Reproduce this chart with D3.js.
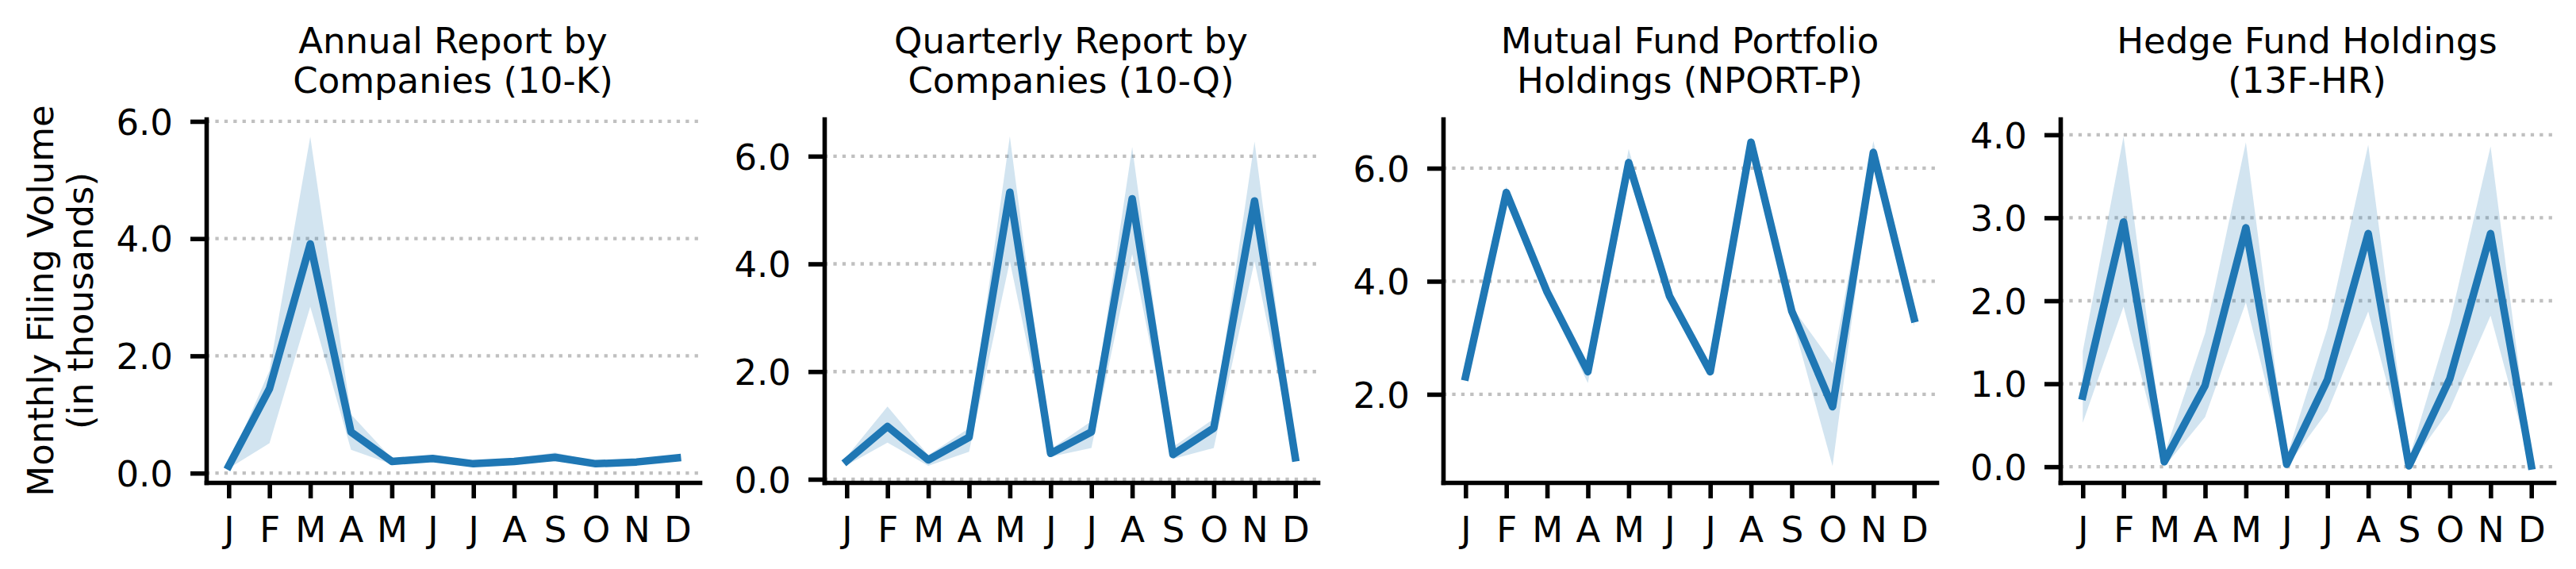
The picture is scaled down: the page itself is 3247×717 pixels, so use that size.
<!DOCTYPE html>
<html><head><meta charset="utf-8">
<script src="https://cdn.jsdelivr.net/npm/d3@7"></script>
<style>body{margin:0;background:#fff}svg{display:block}</style>
</head><body>
<svg id="chart" width="3247" height="717"></svg>
<script>
// ---------------- data ----------------
const months = ["J","F","M","A","M","J","J","A","S","O","N","D"];

const titles10K = ["Annual Report by", "Companies (10-K)"];
const mean10K = [0.12, 1.44, 3.91, 0.70, 0.20, 0.25, 0.16, 0.20, 0.27, 0.16, 0.19, 0.26];
const lo10K   = [0.08, 0.51, 2.84, 0.40, 0.15, 0.21, 0.12, 0.16, 0.20, 0.12, 0.15, 0.21];
const hi10K   = [0.15, 1.75, 5.74, 1.00, 0.25, 0.29, 0.20, 0.25, 0.35, 0.20, 0.24, 0.31];
const ticks10K = [0, 2, 4, 6];

const titles10Q = ["Quarterly Report by", "Companies (10-Q)"];
const mean10Q = [0.34, 0.98, 0.36, 0.78, 5.33, 0.48, 0.88, 5.21, 0.46, 0.95, 5.17, 0.40];
const lo10Q   = [0.26, 0.68, 0.25, 0.51, 4.05, 0.42, 0.58, 4.18, 0.38, 0.58, 4.05, 0.35];
const hi10Q   = [0.42, 1.35, 0.45, 0.95, 6.37, 0.56, 1.08, 6.17, 0.60, 1.12, 6.27, 0.45];
const ticks10Q = [0, 2, 4, 6];

const titlesNPORT = ["Mutual Fund Portfolio", "Holdings (NPORT-P)"];
const meanNPORT = [2.31, 5.57, 3.81, 2.40, 6.10, 3.74, 2.40, 6.46, 3.47, 1.78, 6.28, 3.34];
const loNPORT   = [2.28, 5.50, 3.70, 2.20, 6.02, 3.65, 2.35, 6.40, 3.35, 0.73, 6.20, 3.20];
const hiNPORT   = [2.34, 5.68, 3.88, 2.45, 6.34, 3.85, 2.45, 6.54, 3.55, 2.55, 6.48, 3.40];
const ticksNPORT = [2, 4, 6];

const titles13F = ["Hedge Fund Holdings", "(13F-HR)"];
const mean13F = [0.85, 2.95, 0.06, 0.98, 2.88, 0.03, 1.05, 2.81, 0.01, 1.06, 2.81, 0.01];
const lo13F   = [0.53, 1.93, 0.00, 0.60, 1.98, 0.00, 0.67, 1.87, 0.00, 0.69, 1.82, 0.00];
const hi13F   = [1.39, 3.98, 0.15, 1.61, 3.91, 0.12, 1.67, 3.88, 0.10, 1.74, 3.86, 0.03];
const ticks13F = [0, 1, 2, 3, 4];

const yLabelLines = ["Monthly Filing Volume", "(in thousands)"];

// ---------------- layout ----------------
const panels = [
  {title: titles10K,   mean: mean10K,   lo: lo10K,   hi: hi10K,   ticks: ticks10K,   yDomain: [-0.16, 6.04]},
  {title: titles10Q,   mean: mean10Q,   lo: lo10Q,   hi: hi10Q,   ticks: ticks10Q,   yDomain: [-0.06, 6.69]},
  {title: titlesNPORT, mean: meanNPORT, lo: loNPORT, hi: hiNPORT, ticks: ticksNPORT, yDomain: [0.44, 6.87]},
  {title: titles13F,   mean: mean13F,   lo: lo13F,   hi: hi13F,   ticks: ticks13F,   yDomain: [-0.19, 4.19]}
];
const lefts = [260, 1039, 1819, 2597];
const W = 622, TOP = 150, BOTTOM = 608;
const FONT = "DejaVu Sans";
const FS = 45;
const BLUE = "#1f77b4";

const svg = d3.select("#chart");
svg.append("rect").attr("width", 3247).attr("height", 717).attr("fill", "#fff");

panels.forEach((p, k) => {
  const L = lefts[k], R = L + W;
  const x = d3.scaleLinear().domain([-0.55, 11.55]).range([L, R]);
  const y = d3.scaleLinear().domain(p.yDomain).range([BOTTOM, TOP]);
  const g = svg.append("g");

  // grid
  g.append("g").selectAll("line").data(p.ticks).join("line")
    .attr("x1", L).attr("x2", R)
    .attr("y1", d => y(d)).attr("y2", d => y(d))
    .attr("stroke", "#c0c0c0").attr("stroke-width", 4.3)
    .attr("stroke-dasharray", "4.3 7.1");

  // band
  const idx = d3.range(months.length);
  g.append("path").datum(idx)
    .attr("d", d3.area().x(i => x(i)).y0(i => y(p.lo[i])).y1(i => y(p.hi[i])))
    .attr("fill", BLUE).attr("fill-opacity", 0.2);

  // line
  g.append("path").datum(idx)
    .attr("d", d3.line().x(i => x(i)).y(i => y(p.mean[i])))
    .attr("fill", "none").attr("stroke", BLUE).attr("stroke-width", 9.5)
    .attr("stroke-linejoin", "round").attr("stroke-linecap", "square");

  // y axis
  const ya = g.append("g").attr("transform", `translate(${L},0)`)
    .call(d3.axisLeft(y).tickValues(p.ticks).tickFormat(d3.format(".1f"))
      .tickSize(20).tickPadding(22).tickSizeOuter(0));
  // x axis
  const xa = g.append("g").attr("transform", `translate(0,${BOTTOM})`)
    .call(d3.axisBottom(x).tickValues(idx).tickFormat(i => months[i])
      .tickSize(20).tickPadding(23).tickSizeOuter(0));

  [ya, xa].forEach(a => {
    a.attr("font-family", FONT).attr("font-size", FS);
    a.select(".domain").attr("stroke", "#000").attr("stroke-width", 5.6).attr("stroke-linecap", "square");
    a.selectAll(".tick line").attr("stroke", "#000").attr("stroke-width", 5.6);
    a.selectAll(".tick text").attr("fill", "#000");
  });
  ya.selectAll(".tick text").attr("dy", "0.36em");
  xa.selectAll(".tick text").attr("y", 683 - BOTTOM).attr("dy", 0);

  // title
  const t = g.append("text").attr("font-family", FONT).attr("font-size", FS)
    .attr("text-anchor", "middle").attr("fill", "#000");
  p.title.forEach((line, j) => {
    t.append("tspan").attr("x", (L + R) / 2).attr("y", 67 + j * 50).text(line);
  });
});

// y label
yLabelLines.forEach((line, j) => {
  svg.append("text")
    .attr("transform", `translate(${67 + j * 50},${(TOP + BOTTOM) / 2}) rotate(-90)`)
    .attr("font-family", FONT).attr("font-size", FS)
    .attr("text-anchor", "middle").attr("fill", "#000")
    .text(line);
});
</script>
</body></html>
